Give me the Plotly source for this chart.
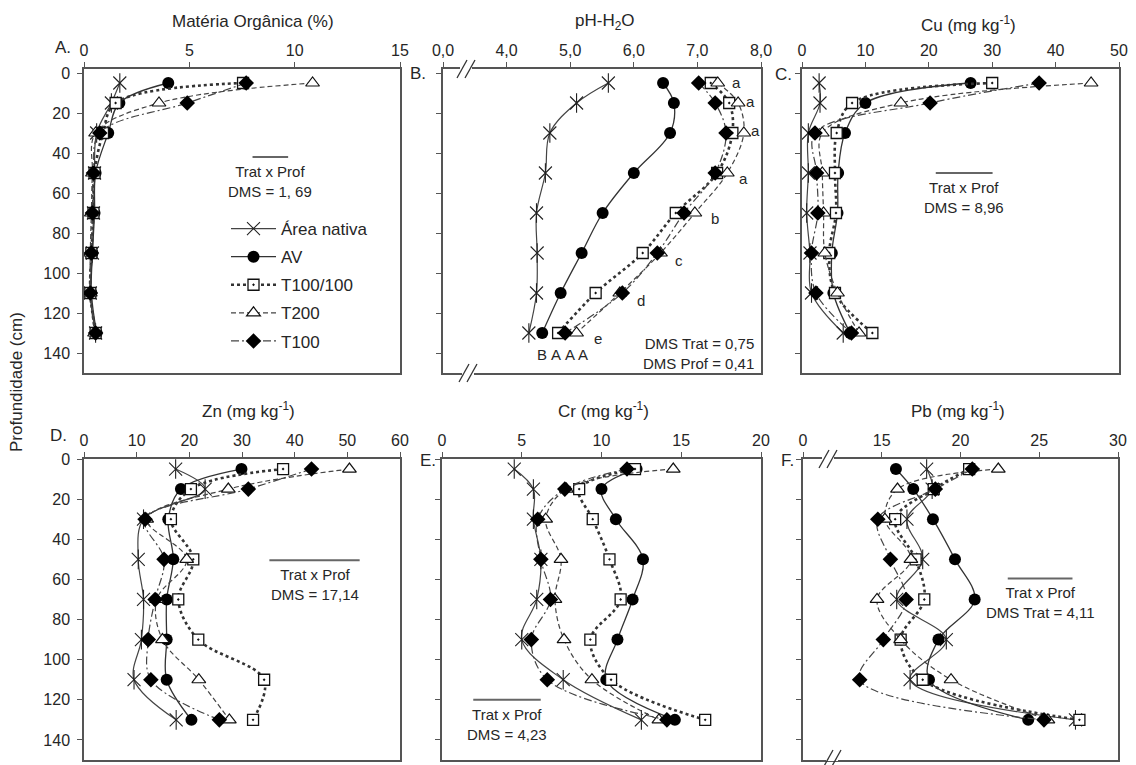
import plotly.graph_objects as go

# page body has an 8px margin; the figure is sized to fill the rest of the window
OFF = 8
W, H = 1136 - OFF, 765 - OFF

# ---------------- data ----------------
depth = [5, 15, 30, 50, 70, 90, 110, 130]
series = ["Área nativa", "AV", "T100/100", "T200", "T100"]

mo = {
    "Área nativa": [1.7, 1.3, 0.6, 0.5, 0.45, 0.4, 0.3, 0.55],
    "AV":          [4.0, 1.68, 1.15, 0.55, 0.5, 0.4, 0.35, 0.6],
    "T100/100":    [7.55, 1.5, 0.9, 0.5, 0.45, 0.35, 0.3, 0.55],
    "T200":        [10.85, 3.56, 0.55, 0.4, 0.35, 0.3, 0.3, 0.5],
    "T100":        [7.7, 4.9, 0.75, 0.45, 0.4, 0.35, 0.3, 0.55],
}
ph = {
    "Área nativa": [5.6, 5.1, 4.68, 4.61, 4.47, 4.48, 4.47, 4.35],
    "AV":          [6.46, 6.63, 6.57, 6.0, 5.51, 5.18, 4.85, 4.56],
    "T100/100":    [7.21, 7.5, 7.55, 7.31, 6.66, 6.14, 5.4, 4.81],
    "T200":        [7.32, 7.64, 7.73, 7.47, 6.96, 6.42, 5.78, 5.1],
    "T100":        [7.02, 7.28, 7.45, 7.28, 6.79, 6.37, 5.82, 4.92],
}
cu = {
    "Área nativa": [2.7, 2.84, 1.0, 1.0, 0.74, 1.26, 1.5, 6.5],
    "AV":          [26.6, 10.0, 6.78, 5.7, 5.6, 4.7, 4.95, 7.6],
    "T100/100":    [30.0, 7.9, 5.47, 5.2, 5.36, 4.3, 5.2, 11.1],
    "T200":        [45.6, 15.6, 3.2, 3.2, 3.4, 3.6, 5.6, 9.0],
    "T100":        [37.4, 20.2, 2.05, 2.3, 2.5, 1.5, 2.2, 7.8],
}
zn = {
    "Área nativa": [17.4, 23.0, 11.3, 10.3, 11.3, 10.9, 9.5, 17.5],
    "AV":          [29.9, 18.4, 16.0, 16.95, 15.7, 15.7, 15.7, 20.4],
    "T100/100":    [37.8, 20.3, 16.5, 20.75, 17.9, 21.7, 34.2, 32.1],
    "T200":        [50.4, 27.4, 11.9, 19.5, 13.8, 14.9, 21.8, 27.6],
    "T100":        [43.2, 31.2, 11.6, 15.2, 13.5, 12.2, 12.7, 25.7],
}
cr = {
    "Área nativa": [4.53, 5.73, 5.73, 6.2, 5.94, 5.0, 7.6, 12.5],
    "AV":          [12.2, 10.0, 10.9, 12.6, 11.95, 11.0, 10.3, 14.6],
    "T100/100":    [12.1, 8.6, 9.45, 10.5, 11.2, 9.3, 10.6, 16.5],
    "T200":        [14.5, 7.8, 6.5, 7.46, 7.08, 7.65, 9.4, 13.6],
    "T100":        [11.6, 7.7, 6.0, 6.2, 6.8, 5.6, 6.6, 14.1],
}
pb = {
    "Área nativa": [17.85, 18.2, 16.6, 17.6, 15.95, 19.1, 16.8, 27.3],
    "AV":          [15.9, 17.0, 18.25, 19.65, 20.9, 18.6, 18.0, 24.3],
    "T100/100":    [20.55, 18.3, 15.85, 17.15, 17.7, 16.2, 17.6, 27.55],
    "T200":        [22.4, 16.0, 15.2, 16.85, 14.7, 16.2, 19.4, 25.55],
    "T100":        [20.75, 18.4, 14.75, 15.55, 16.55, 15.1, 13.6, 25.3],
}

panel_titles = ["Matéria Orgânica (%)", "pH-H<sub>2</sub>O", "Cu (mg kg<sup>-1</sup>)",
                "Zn (mg kg<sup>-1</sup>)", "Cr (mg kg<sup>-1</sup>)", "Pb (mg kg<sup>-1</sup>)"]
panel_letters = ["A.", "B.", "C.", "D.", "E.", "F."]
depth_ticks = [0, 20, 40, 60, 80, 100, 120, 140]
ph_letters = ["a", "a", "a", "a", "b", "c", "d", "e"]
ph_treat_letters = ["B", "A", "A", "A"]

# ---------------- layout helpers (window pixel -> paper) ----------------
def px(x):
    return (x - OFF) / W

def py(y):
    return 1 - (y - OFF) / H

FONT = "Liberation Sans, Arial, sans-serif"
TXT = "#262626"
AX = "#555555"

panels = [
    # (x0, x1, ytop, ybot, xrange, tickvals, ticktext, yrange, showylabels)
    (84, 400, 69, 373, [0, 15], [0, 5, 10, 15], ["0", "5", "10", "15"], [150, -2], True),
    (443, 761, 69, 373, [3, 8], [3, 4, 5, 6, 7, 8], ["0,0", "4,0", "5,0", "6,0", "7,0", "8,0"], [150, -2], False),
    (802, 1119, 69, 373, [0, 50], [0, 10, 20, 30, 40, 50], None, [150, -2], False),
    (84, 400, 459, 760, [0, 60], [0, 10, 20, 30, 40, 50, 60], None, [150, 0], True),
    (442, 761, 459, 760, [0, 20], [0, 5, 10, 15, 20], None, [150, 0], False),
    (803, 1118, 459, 760, [10, 30], [10, 15, 20, 25, 30], ["0", "15", "20", "25", "30"], [150, 0], False),
]
datasets = [mo, ph, cu, zn, cr, pb]

styles = {
    "Área nativa": dict(line=dict(color="#444444", width=1.2, dash="solid"),
                        marker=dict(symbol="x-thin-open", size=13, color="#222222",
                                    line=dict(width=1.1, color="#222222"))),
    "AV": dict(line=dict(color="#333333", width=1.3, dash="solid"),
               marker=dict(symbol="circle", size=12, color="#000000")),
    "T100/100": dict(line=dict(color="#333333", width=2.6, dash="dot"),
                     marker=dict(symbol="square-dot", size=11, color="#ffffff",
                                 line=dict(width=1.3, color="#111111"))),
    "T200": dict(line=dict(color="#444444", width=1.2, dash="5px,3px"),
                 marker=dict(symbol="triangle-up", size=12, color="#ffffff",
                             line=dict(width=1.2, color="#111111"))),
    "T100": dict(line=dict(color="#444444", width=1.2, dash="8px,3px,2px,3px"),
                 marker=dict(symbol="diamond", size=12, color="#000000")),
}

fig = go.Figure()
layout = dict(template="none", width=W, height=H, margin=dict(l=0, r=0, t=0, b=0, pad=0),
              paper_bgcolor="white", plot_bgcolor="white",
              font=dict(family=FONT, color=TXT, size=16))

for i, (x0, x1, yt, yb, xr, tv, tt, yr, showy) in enumerate(panels):
    n = i + 1
    xa = "xaxis" if n == 1 else f"xaxis{n}"
    ya = "yaxis" if n == 1 else f"yaxis{n}"
    xref = "x" if n == 1 else f"x{n}"
    yref = "y" if n == 1 else f"y{n}"
    layout[xa] = dict(domain=[px(x0), px(x1)], range=xr, side="top", anchor=yref,
                      tickvals=tv, ticktext=tt if tt else [str(v) for v in tv],
                      ticks="outside", ticklen=5, tickcolor=AX, showline=True, linecolor=AX,
                      linewidth=1.5, mirror=True, showgrid=False, zeroline=False,
                      automargin=False, ticklabelstandoff=0,
                      tickfont=dict(size=16, color=TXT, family=FONT))
    layout[ya] = dict(domain=[py(yb), py(yt)], range=yr, anchor=xref,
                      tickvals=depth_ticks, showticklabels=showy,
                      ticks="outside", ticklen=5, tickcolor=AX, showline=True, linecolor=AX,
                      linewidth=1.5, mirror=True, showgrid=False, zeroline=False,
                      automargin=False, ticklabelstandoff=4,
                      tickfont=dict(size=16, color=TXT, family=FONT))
    data = datasets[i]
    for j, s in enumerate(series):
        st = styles[s]
        fig.add_trace(go.Scatter(
            x=data[s], y=depth, name=s, mode="lines+markers",
            line=dict(shape="spline", smoothing=1.0, **st["line"]),
            marker=st["marker"], xaxis=xref, yaxis=yref, legendgroup=s,
            showlegend=(n == 1)))
        if s == "Área nativa":
            fig.add_trace(go.Scatter(
                x=data[s], y=depth, mode="markers", showlegend=False, hoverinfo="skip",
                legendgroup=s,
                marker=dict(symbol="line-ns-open", size=14, color="#222222",
                            line=dict(width=1.1, color="#222222")),
                xaxis=xref, yaxis=yref))

annotations = []
shapes = []

def ann(text, x, y, size=17, **kw):
    d = dict(text=text, x=px(x), y=py(y), xref="paper", yref="paper",
             xanchor="center", yanchor="middle", showarrow=False,
             font=dict(size=size, color=TXT, family=FONT))
    d.update(kw)
    annotations.append(d)

# panel titles
title_pos = [(253, 21), (605, 22), (968, 24), (248, 410), (603, 410), (958, 410)]
for t, (x, y) in zip(panel_titles, title_pos):
    ann(t, x, y)
# panel letters
letter_pos = [(63, 47), (418, 73), (783, 75), (58, 435), (428, 461), (787, 460)]
for t, (x, y) in zip(panel_letters, letter_pos):
    ann(t, x, y)
# y axis title
ann("Profundidade (cm)", 17, 382, textangle=-90)

# DMS bars + texts
dms = [
    # (xref, yref, x_start, dms_value, depth_line, text)
    ("x", "y", 8.0, 1.69, 42, "Trat x Prof<br>DMS = 1, 69"),
    ("x3", "y3", 21.1, 8.96, 50, "Trat x Prof<br>DMS = 8,96"),
    ("x4", "y4", 35.2, 17.14, 50.5, "Trat x Prof<br>DMS = 17,14"),
    ("x5", "y5", 1.96, 4.23, 120, "Trat x Prof<br>DMS = 4,23"),
    ("x6", "y6", 23.0, 4.11, 59.5, "Trat x Prof<br>DMS Trat = 4,11"),
]
for xr_, yr_, xs, d, dl, txt in dms:
    shapes.append(dict(type="line", xref=xr_, yref=yr_, x0=xs, x1=xs + d, y0=dl, y1=dl,
                       line=dict(color="#666666", width=2)))
    annotations.append(dict(text=txt, x=xs + d / 2, y=dl + 2, xref=xr_, yref=yr_,
                            xanchor="center", yanchor="top", showarrow=False,
                            font=dict(size=15, color=TXT, family=FONT)))

# pH panel letters
ph_letter_xy = [(7.62, 4.5), (7.83, 14.3), (7.91, 28.8), (7.73, 52.5),
                (7.28, 72.7), (6.71, 93.5), (6.12, 113.8), (5.43, 132.5)]
for t, (x, y) in zip(ph_letters, ph_letter_xy):
    annotations.append(dict(text=t, x=x, y=y, xref="x2", yref="y2", showarrow=False,
                            xanchor="center", yanchor="middle",
                            font=dict(size=15, color=TXT, family=FONT)))
for t, x in zip(ph_treat_letters, [4.56, 4.78, 4.99, 5.2]):
    annotations.append(dict(text=t, x=x, y=140.5, xref="x2", yref="y2", showarrow=False,
                            xanchor="center", yanchor="middle",
                            font=dict(size=15, color=TXT, family=FONT)))
annotations.append(dict(text="DMS Trat = 0,75<br>DMS Prof = 0,41", x=7.92, y=130, xref="x2", yref="y2",
                        xanchor="right", yanchor="top", align="right", showarrow=False,
                        font=dict(size=15, color=TXT, family=FONT)))

# axis break marks
def brk(xc, yc):
    shapes.append(dict(type="rect", xref="paper", yref="paper", x0=px(xc - 6), x1=px(xc + 6),
                       y0=py(yc + 2), y1=py(yc - 2), fillcolor="white", line=dict(width=0)))
    for dx in (-4, 4):
        shapes.append(dict(type="line", xref="paper", yref="paper",
                           x0=px(xc + dx - 5), y0=py(yc + 9), x1=px(xc + dx + 5), y1=py(yc - 9),
                           line=dict(color="#333333", width=1.3)))

brk(466, 69)
brk(468, 373)
brk(828, 459)
brk(832, 759)

layout["annotations"] = annotations
layout["shapes"] = shapes
layout["legend"] = dict(x=px(226), y=py(211), xanchor="left", yanchor="top",
                        bgcolor="rgba(0,0,0,0)", font=dict(size=17, color=TXT, family=FONT),
                        itemwidth=45, traceorder="grouped", tracegroupgap=3)
layout["showlegend"] = True
fig.update_layout(**layout)

fig.write_html("out.html")
